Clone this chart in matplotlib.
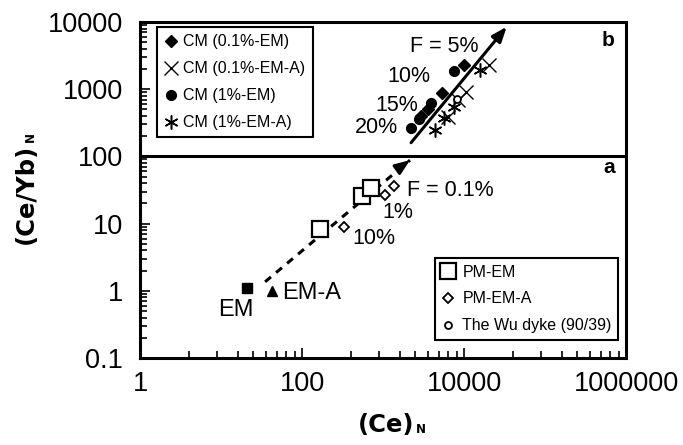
import matplotlib
matplotlib.use("Agg")
import matplotlib.pyplot as plt
import numpy as np
from matplotlib.ticker import FixedLocator, NullFormatter

plt.rcParams['font.family'] = ['Liberation Sans', 'DejaVu Sans']

# end members
em_x, em_y = [21], [1.1]
ema_x, ema_y = [43], [1.0]

# panel a: partial melts of PM (F = 10%, 1%, 0.1%)
pm_em_x = [167, 546, 705]
pm_em_y = [8.2, 25.7, 33.5]
pm_ema_x = [333, 1059, 1380]
pm_ema_y = [8.8, 26.7, 36]

# Wu dyke sample
wu_x, wu_y = [8130], [708]

# panel b: CM melts (F = 20%, 15%, 10%, 5%)
cm01_em_x = [2944, 3560, 5305, 10090]
cm01_em_y = [399, 502, 887, 2291]
cm01_ema_x = [6290, 8510, 10490, 20370]
cm01_ema_y = [390, 690, 918, 2291]
cm1_em_x = [2198, 2782, 3917, 7600]
cm1_em_y = [262, 361, 630, 1884]
cm1_ema_x = [4385, 5710, 7590, 15770]
cm1_ema_y = [247, 369, 550, 1930]

# melting trend arrows
arrow_a_x = [35, 2154]
arrow_a_y = [1.36, 88]
arrow_b_x = [2218, 33650]
arrow_b_y = [160, 8510]

fig = plt.figure(figsize=(6.83, 4.45), dpi=100)
ax = fig.add_axes([0.205, 0.1955, 0.7116, 0.755])
ax.set_xscale('log')
ax.set_yscale('log')
ax.set_xlim(1, 1e6)
ax.set_ylim(0.1, 1e4)

# separator between panels
ax.axhline(100, color='black', lw=2.2)

# arrows
ax.plot(arrow_a_x, arrow_a_y, color='black', lw=2.2, ls=(0, (2.5, 2.2)))
ax.annotate('', xy=(arrow_a_x[1], arrow_a_y[1]),
            xytext=(arrow_a_x[1] * 0.75, arrow_a_y[1] * 0.78),
            arrowprops=dict(arrowstyle='-|>,head_length=0.9,head_width=0.35',
                            color='black', lw=2.0, shrinkA=0, shrinkB=0))
ax.annotate('', xy=(arrow_b_x[1], arrow_b_y[1]), xytext=(arrow_b_x[0], arrow_b_y[0]),
            arrowprops=dict(arrowstyle='-|>,head_length=0.9,head_width=0.35',
                            color='black', lw=2.2, shrinkA=0, shrinkB=0))

# panel a points
ax.plot(em_x, em_y, 's', color='black', ms=6.5)
ax.plot(ema_x, ema_y, '^', color='black', ms=7.5)
h_pm_em, = ax.plot(pm_em_x, pm_em_y, 's', mfc='white', mec='black', mew=1.6, ms=11,
                   ls='none', label='PM-EM')
h_pm_ema, = ax.plot(pm_ema_x, pm_ema_y, 'D', mfc='white', mec='black', mew=1.3, ms=5.5,
                    ls='none', label='PM-EM-A')

# panel b points
h_cm01_em, = ax.plot(cm01_em_x, cm01_em_y, 'D', color='black', ms=6, ls='none',
                     label='CM (0.1%-EM)')
h_cm01_ema, = ax.plot(cm01_ema_x, cm01_ema_y, 'x', color='black', mew=1.0, ms=9.5,
                      ls='none', label='CM (0.1%-EM-A)')
h_cm1_em, = ax.plot(cm1_em_x, cm1_em_y, 'o', color='black', ms=7, ls='none',
                    label='CM (1%-EM)')
h_cm1_ema, = ax.plot(cm1_ema_x, cm1_ema_y, marker=(6, 2, 0), color='black', mew=1.1,
                     ms=10, ls='none', label='CM (1%-EM-A)')
h_wu, = ax.plot(wu_x, wu_y, 'o', mfc='white', mec='black', mew=1.3, ms=5, ls='none',
                label='The Wu dyke (90/39)')

# annotations
fs_pct = 15.5
ax.text(2154, 4250, 'F = 5%', fontsize=fs_pct, ha='left', va='center')
ax.text(3803, 1521, '10%', fontsize=fs_pct, ha='right', va='center')
ax.text(2704, 582, '15%', fontsize=fs_pct, ha='right', va='center')
ax.text(1531, 265, '20%', fontsize=fs_pct, ha='right', va='center')
ax.text(1978, 31.6, 'F = 0.1%', fontsize=fs_pct, ha='left', va='center')
ax.text(2345, 14.4, '1%', fontsize=fs_pct, ha='right', va='center')
ax.text(1406, 6.1, '10%', fontsize=fs_pct, ha='right', va='center')
ax.text(15.1, 0.518, 'EM', fontsize=17, ha='center', va='center')
ax.text(56.6, 0.927, 'EM-A', fontsize=17, ha='left', va='center')
ax.text(0.977, 0.946, 'b', transform=ax.transAxes, fontsize=15, fontweight='bold',
        ha='right', va='center')
ax.text(0.977, 0.568, 'a', transform=ax.transAxes, fontsize=15, fontweight='bold',
        ha='right', va='center')

leg_b = ax.legend(handles=[h_cm01_em, h_cm01_ema, h_cm1_em, h_cm1_ema],
                  loc='upper left', bbox_to_anchor=(0.035, 0.985), fontsize=11.5,
                  frameon=True, fancybox=False, edgecolor='black', framealpha=1,
                  handlelength=0.8, handletextpad=0.4, labelspacing=0.75,
                  borderpad=0.45, borderaxespad=0)
leg_b.get_frame().set_linewidth(1.5)
ax.add_artist(leg_b)
leg_a = ax.legend(handles=[h_pm_em, h_pm_ema, h_wu],
                  loc='lower right', bbox_to_anchor=(0.984, 0.054), fontsize=11.5,
                  frameon=True, fancybox=False, edgecolor='black', framealpha=1,
                  handlelength=0.8, handletextpad=0.5, labelspacing=0.75,
                  borderpad=0.4, borderaxespad=0)
leg_a.get_frame().set_linewidth(1.5)

# ticks
xmajor = [1, 1e2, 1e4, 1e6]
xminor = [s ** 2 * 100 ** k for k in range(3) for s in range(2, 10)]
ax.xaxis.set_major_locator(FixedLocator(xmajor))
ax.xaxis.set_minor_locator(FixedLocator(xminor))
ax.set_xticklabels(['1', '100', '10000', '1000000'])
ax.xaxis.set_minor_formatter(NullFormatter())
ymajor = [0.1, 1, 10, 100, 1000, 10000]
ax.yaxis.set_major_locator(FixedLocator(ymajor))
ax.set_yticklabels(['0.1', '1', '10', '100', '1000', '10000'])
ax.yaxis.set_minor_formatter(NullFormatter())

ax.tick_params(which='both', direction='in', top=False, right=False, width=1.2)
ax.tick_params(which='major', length=7, labelsize=19.5)
ax.tick_params(axis='y', which='major', pad=12)
ax.tick_params(axis='x', which='major', pad=9)
ax.tick_params(which='minor', length=5)
for sp in ax.spines.values():
    sp.set_linewidth(2.2)

# axis titles with small subscript N
xl = fig.text(0.565, 0.045, '(Ce)', family='DejaVu Sans', fontweight='bold',
              fontsize=17.5, ha='center', va='center')
fig.canvas.draw()
ax.annotate('N', xy=(1.0, 0.05), xycoords=xl, xytext=(1, 0), textcoords='offset points',
            family='DejaVu Sans', fontweight='bold', fontsize=8.5, ha='left', va='bottom')
yl = fig.text(0.038, 0.565, '(Ce/Yb)', family='DejaVu Sans', fontweight='bold',
              fontsize=17.5, ha='center', va='center', rotation=90)
ax.annotate('N', xy=(0.95, 1.0), xycoords=yl, xytext=(0, 1), textcoords='offset points',
            family='DejaVu Sans', fontweight='bold', fontsize=8.5, ha='right', va='bottom',
            rotation=90)

fig.savefig('out.png', dpi=100)
